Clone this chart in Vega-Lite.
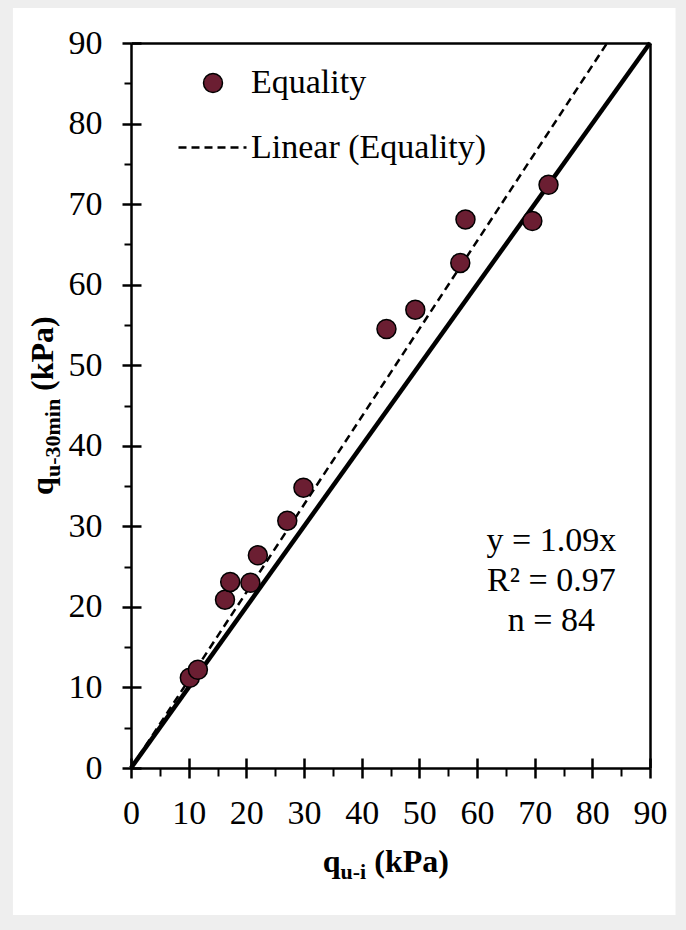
{
  "$schema": "https://vega.github.io/schema/vega-lite/v6.json",
  "width": 519,
  "height": 725,
  "autosize": {"type": "none"},
  "padding": {"left": 131, "top": 43, "right": 36, "bottom": 162},
  "background": "#eeeeee",
  "config": {
    "font": "Liberation Serif",
    "view": {"stroke": null},
    "axis": {"grid": false, "domainColor": "black", "tickColor": "black", "labelColor": "black", "titleColor": "black"},
    "legend": {"padding": 0, "titleFontSize": 0}
  },
  "datasets": {
    "pts": [
      {"qi": 10.2, "q30": 11.2},
      {"qi": 11.6, "q30": 12.2},
      {"qi": 16.3, "q30": 20.9},
      {"qi": 17.2, "q30": 23.1},
      {"qi": 20.7, "q30": 23.0},
      {"qi": 22.0, "q30": 26.4},
      {"qi": 27.1, "q30": 30.7},
      {"qi": 29.9, "q30": 34.8},
      {"qi": 44.3, "q30": 54.5},
      {"qi": 49.3, "q30": 56.9},
      {"qi": 57.1, "q30": 62.7},
      {"qi": 58.0, "q30": 68.1},
      {"qi": 69.6, "q30": 67.9},
      {"qi": 72.4, "q30": 72.4}
    ],
    "eq": [{"qi": 0, "q30": 0}, {"qi": 90, "q30": 90}],
    "fit": [{"qi": 0, "q30": 0}, {"qi": 82.57, "q30": 90}],
    "one": [{}]
  },
  "resolve": {"axis": {"x": "independent", "y": "independent"}},
  "layer": [
    {
      "data": {"name": "one"},
      "mark": {"type": "rect", "fill": "white"},
      "encoding": {
        "x": {"datum": -20.48, "type": "quantitative", "scale": {"domain": [0, 90], "nice": false, "zero": false},
          "axis": {"orient": "bottom", "zindex": 2, "values": [0,10,20,30,40,50,60,70,80,90], "tickSize": 10, "tickWidth": 2.5, "domainWidth": 2.5, "labelFontSize": 34, "labelPadding": 18, "labelFlush": false, "labelOverlap": false, "title": null}},
        "x2": {"datum": 94.43},
        "y": {"datum": 94.34, "type": "quantitative", "scale": {"domain": [0, 90], "nice": false, "zero": false},
          "axis": {"orient": "left", "zindex": 2, "values": [0,10,20,30,40,50,60,70,80,90], "tickSize": 9, "tickWidth": 2.5, "domainWidth": 2.5, "labelFontSize": 34, "labelPadding": 20, "labelFlush": false, "labelOverlap": false, "title": null}},
        "y2": {"datum": -18.25}
      }
    },
    {
      "data": {"name": "eq"},
      "mark": {"type": "line", "color": "black", "strokeWidth": 4.5},
      "encoding": {
        "x": {"field": "qi", "type": "quantitative",
          "axis": {"orient": "bottom", "zindex": 2, "values": [5,15,25,35,45,55,65,75,85], "tickSize": 8, "tickWidth": 2, "domain": false, "labels": false, "title": null}},
        "y": {"field": "q30", "type": "quantitative",
          "axis": {"orient": "left", "zindex": 2, "values": [5,15,25,35,45,55,65,75,85], "tickSize": 7, "tickWidth": 2, "domain": false, "labels": false, "title": null}}
      }
    },
    {
      "data": {"name": "fit"},
      "mark": {"type": "line", "color": "black", "strokeWidth": 2.5},
      "encoding": {
        "x": {"field": "qi", "type": "quantitative",
          "axis": {"orient": "bottom", "zindex": 2, "values": [0,10,20,30,40,50,60,70,80,90], "tickSize": -10, "tickWidth": 2.5, "domain": false, "labels": false, "title": null}},
        "y": {"field": "q30", "type": "quantitative",
          "axis": {"orient": "left", "zindex": 2, "values": [0,10,20,30,40,50,60,70,80,90], "tickSize": -10, "tickWidth": 2.5, "domain": false, "labels": false, "title": null}},
        "strokeDash": {"datum": "Linear (Equality)", "scale": {"range": [[8, 5]]},
          "legend": {"orient": "none", "legendX": 46, "legendY": 69, "title": null, "symbolType": "stroke", "symbolSize": 4624, "symbolStrokeColor": "black", "symbolStrokeWidth": 2.5, "labelFontSize": 34, "labelOffset": 3, "labelColor": "black", "labelLimit": 400}}
      }
    },
    {
      "data": {"name": "pts"},
      "mark": {"type": "point", "filled": true, "size": 360, "stroke": "black", "strokeWidth": 1.5, "opacity": 1},
      "encoding": {
        "x": {"field": "qi", "type": "quantitative",
          "axis": {"orient": "top", "zindex": 2, "domainWidth": 2.5, "ticks": false, "labels": false, "title": null}},
        "y": {"field": "q30", "type": "quantitative",
          "axis": {"orient": "right", "zindex": 2, "domainWidth": 2.5, "ticks": false, "labels": false, "title": null}},
        "color": {"datum": "Equality", "scale": {"range": ["#6b1e32"]},
          "legend": {"orient": "none", "legendX": 65, "legendY": 23, "title": null, "symbolType": "circle", "symbolSize": 360, "symbolStrokeColor": "black", "symbolStrokeWidth": 1.5, "symbolOpacity": 1, "labelFontSize": 34, "labelOffset": 21, "labelColor": "black"}}
      }
    },
    {
      "data": {"name": "one"},
      "mark": {"type": "text", "fontSize": 34, "align": "center", "baseline": "middle", "lineHeight": 40, "color": "black"},
      "encoding": {
        "x": {"datum": 72.9, "type": "quantitative", "axis": null},
        "y": {"datum": 28.2, "type": "quantitative", "axis": null},
        "text": {"value": ["y = 1.09x", "R² = 0.97", "n = 84"]}
      }
    },
    {
      "data": {"name": "one"},
      "mark": {"type": "text", "fontSize": 32, "fontWeight": "bold", "align": "left", "baseline": "alphabetic", "color": "black"},
      "encoding": {"x": {"datum": 33.24, "type": "quantitative", "axis": null}, "y": {"datum": -12.9, "type": "quantitative", "axis": null}, "text": {"value": "q"}}
    },
    {
      "data": {"name": "one"},
      "mark": {"type": "text", "fontSize": 22, "fontWeight": "bold", "align": "left", "baseline": "alphabetic", "dy": 7, "color": "black"},
      "encoding": {"x": {"datum": 36.33, "type": "quantitative", "axis": null}, "y": {"datum": -12.9, "type": "quantitative", "axis": null}, "text": {"value": "u-i"}}
    },
    {
      "data": {"name": "one"},
      "mark": {"type": "text", "fontSize": 32, "fontWeight": "bold", "align": "left", "baseline": "alphabetic", "color": "black"},
      "encoding": {"x": {"datum": 42.18, "type": "quantitative", "axis": null}, "y": {"datum": -12.9, "type": "quantitative", "axis": null}, "text": {"value": "(kPa)"}}
    },
    {
      "data": {"name": "one"},
      "mark": {"type": "text", "fontSize": 32, "fontWeight": "bold", "align": "left", "baseline": "alphabetic", "angle": 270, "color": "black"},
      "encoding": {"x": {"datum": -13.54, "type": "quantitative", "axis": null}, "y": {"datum": 33.89, "type": "quantitative", "axis": null}, "text": {"value": "q"}}
    },
    {
      "data": {"name": "one"},
      "mark": {"type": "text", "fontSize": 22, "fontWeight": "bold", "align": "left", "baseline": "alphabetic", "angle": 270, "dy": 7, "color": "black"},
      "encoding": {"x": {"datum": -13.54, "type": "quantitative", "axis": null}, "y": {"datum": 36.12, "type": "quantitative", "axis": null}, "text": {"value": "u-30min"}}
    },
    {
      "data": {"name": "one"},
      "mark": {"type": "text", "fontSize": 32, "fontWeight": "bold", "align": "left", "baseline": "alphabetic", "angle": 270, "color": "black"},
      "encoding": {"x": {"datum": -13.54, "type": "quantitative", "axis": null}, "y": {"datum": 46.8, "type": "quantitative", "axis": null}, "text": {"value": "(kPa)"}}
    }
  ]
}
